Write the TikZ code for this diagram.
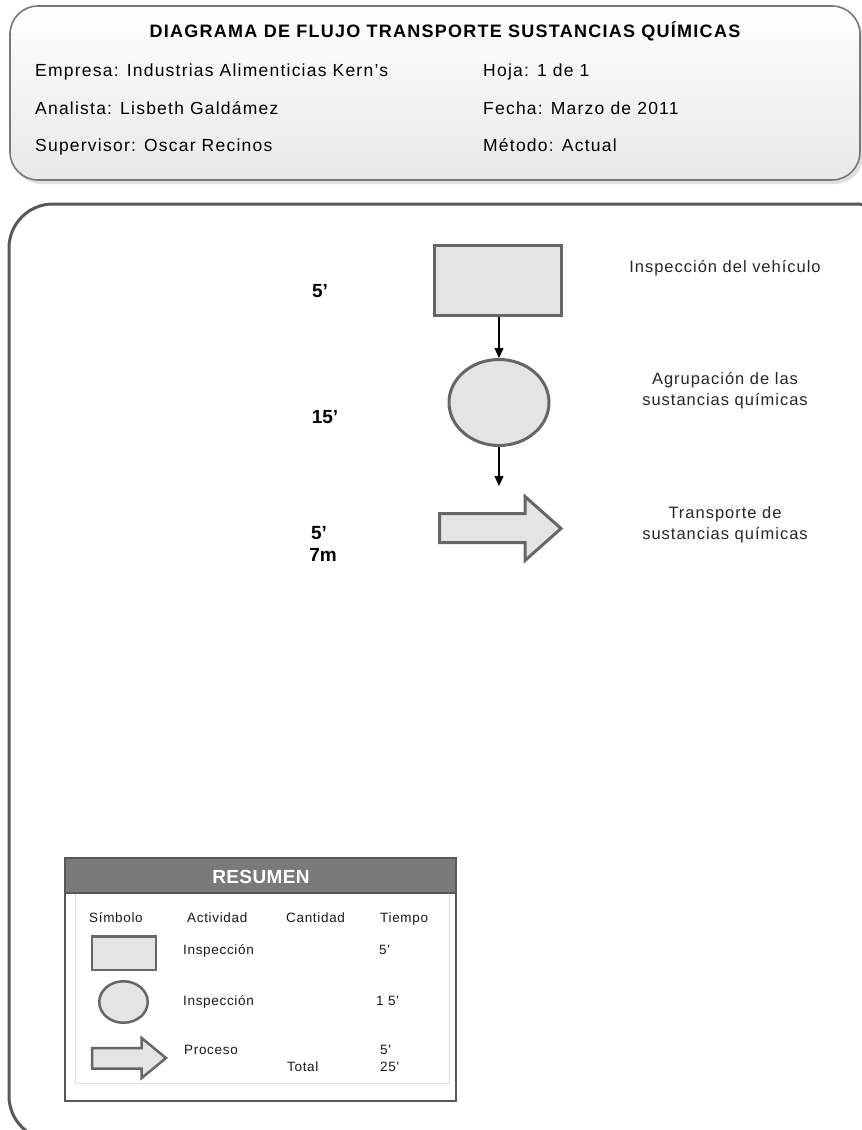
\documentclass[tikz,border=0pt]{standalone}
\usepackage{fontspec}
\setmainfont{Liberation Sans}
\newfontfamily\hdrfont{Liberation Sans}[LetterSpace=7]
\newfontfamily\flowfont{Liberation Sans}[LetterSpace=6]
\newfontfamily\tabfont{Liberation Sans}[LetterSpace=5]
\newfontfamily\bandfont{Liberation Sans}[LetterSpace=2]
\usetikzlibrary{arrows.meta,shapes.geometric}
\definecolor{shapefill}{RGB}{228,228,228}
\definecolor{shapeline}{RGB}{102,102,102}
\definecolor{frameline}{RGB}{88,88,88}
\definecolor{bandfill}{RGB}{122,122,122}
\definecolor{panelline}{RGB}{222,222,222}
\definecolor{headline}{RGB}{120,120,120}

\begin{document}
\begin{tikzpicture}[x=1pt,y=-1pt,
  hdr/.style={font={\hdrfont\fontsize{17.5}{20}\selectfont}, anchor=base west, inner sep=0pt},
  hdrtitle/.style={font={\hdrfont\bfseries\fontsize{18}{21}\selectfont}, anchor=base, inner sep=0pt},
  flowlbl/.style={font={\flowfont\fontsize{16.5}{20}\selectfont}, text=black!85, anchor=base, inner sep=0pt},
  timelbl/.style={font={\bfseries\fontsize{19}{22}\selectfont}, anchor=base, inner sep=0pt},
  tablbl/.style={font={\tabfont\fontsize{13.5}{16}\selectfont}, text=black!90, anchor=base west, inner sep=0pt},
  symbox/.style={draw=shapeline, fill=shapefill, line width=3pt, rectangle, inner sep=0pt},
  symell/.style={draw=shapeline, fill=shapefill, line width=3pt, ellipse, inner sep=0pt},
  symarrow/.style={draw=shapeline, fill=shapefill, line width=3pt, line join=miter},
  flow/.style={draw=black, line width=1.2pt, -{Triangle[length=10pt,width=9pt]}}
]
\useasboundingbox (0,0) rectangle (862,1130);

% ---------- header card ----------
\fill[black!12, rounded corners=28] (13,10) rectangle (863,184);
\shade[top color=white, bottom color=black!9, rounded corners=28]
  (10,6) rectangle (860,180);
\draw[headline, line width=1.6pt, rounded corners=28] (10,6) rectangle (860,180);

\node[hdrtitle] (title) at (445,37) {DIAGRAMA DE FLUJO TRANSPORTE SUSTANCIAS QUÍMICAS};
\node[hdr] (empresa)    at (35,76)   {Empresa: Industrias Alimenticias Kern’s};
\node[hdr] (analista)   at (35,114)  {Analista: Lisbeth Galdámez};
\node[hdr] (supervisor) at (35,151)  {Supervisor: Oscar Recinos};
\node[hdr] (hoja)       at (483,76)  {Hoja: 1 de 1};
\node[hdr] (fecha)      at (483,114) {Fecha: Marzo de 2011};
\node[hdr] (metodo)     at (483,151) {Método: Actual};

% ---------- main frame ----------
\draw[frameline, line width=3pt, rounded corners=44] (9,204) rectangle (900,1140);

% ---------- flow ----------
\node[symbox, minimum width=127, minimum height=70] (insp) at (497.5,280.5) {};
\node[symell, minimum width=100, minimum height=86] (circ) at (499,402.5) {};
\coordinate (trtop) at (499,486);

\draw[flow] (insp.south -| circ.north) -- (circ.north);
\draw[flow] (circ.south) -- (trtop);

% transport arrow
\draw[symarrow] (439.5,513.5) -- (525,513.5) -- (525,496.5) -- (561,528.5)
  -- (525,560.5) -- (525,542.5) -- (439.5,542.5) -- cycle;

% times
\node[timelbl] (t1)  at (320,297) {5’};
\node[timelbl] (t2)  at (325,423) {15’};
\node[timelbl] (t3)  at (319,539) {5’};
\node[timelbl] (t3b) at (323,561) {7m};

% descriptions
\node[flowlbl] (d1)  at (725,272.5) {Inspección del vehículo};
\node[flowlbl] (d2a) at (725,384)   {Agrupación de las};
\node[flowlbl] (d2b) at (725,405)   {sustancias químicas};
\node[flowlbl] (d3a) at (725,518)   {Transporte de};
\node[flowlbl] (d3b) at (725,539)   {sustancias químicas};

% ---------- summary table ----------
\fill[white] (65,858) rectangle (456,1101);
\draw[panelline, line width=1pt] (75,893) rectangle (449,1083);
\fill[bandfill] (65,858) rectangle (456,893);
\draw[frameline, line width=2.5pt] (65,858) rectangle (456,1101);
\draw[frameline, line width=2pt] (65,893) -- (456,893);
\node[font={\bandfont\bfseries\fontsize{19}{22}\selectfont}, text=white, anchor=base, inner sep=0pt]
  (resumen) at (261,883) {RESUMEN};

\node[tablbl] (hsim) at (89,922)  {Símbolo};
\node[tablbl] (hact) at (187,922) {Actividad};
\node[tablbl] (hcan) at (286,922) {Cantidad};
\node[tablbl] (htie) at (380,922) {Tiempo};

\node[symbox, line width=2.5pt, minimum width=64, minimum height=33.5] (ssq) at (124,953) {};
\node[symell, line width=2.5pt, minimum width=48.5, minimum height=41.5] (sci) at (123.5,1002) {};
\draw[symarrow, line width=2.5pt] (92,1048) -- (141.7,1048) -- (141.7,1038) -- (166,1058)
  -- (141.7,1078) -- (141.7,1068.5) -- (92,1068.5) -- cycle;

\node[tablbl] (a1) at (183,954.5)  {Inspección};
\node[tablbl] (a2) at (183,1005)   {Inspección};
\node[tablbl] (a3) at (184,1054.5) {Proceso};
\node[tablbl] (tot) at (287,1071.5) {Total};

\node[tablbl] (m1) at (379,954.5)  {5'};
\node[tablbl] (m2) at (376,1005)   {1 5'};
\node[tablbl] (m3) at (380,1054.5) {5'};
\node[tablbl] (m4) at (380,1071.5) {25'};
\end{tikzpicture}
\end{document}
